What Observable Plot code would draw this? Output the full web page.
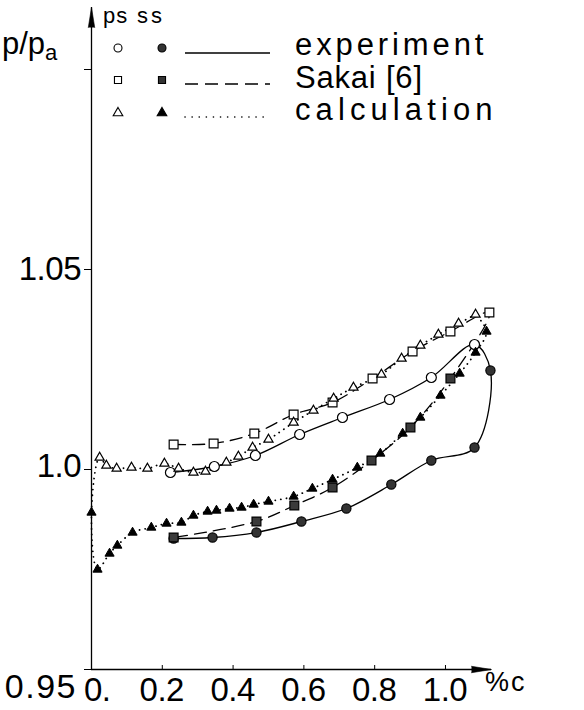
<!DOCTYPE html>
<html><head><meta charset="utf-8">
<script src="https://cdn.jsdelivr.net/npm/d3@7"></script>
<script src="https://cdn.jsdelivr.net/npm/@observablehq/plot@0.6"></script>
<style>
body{margin:0;background:#fff;}
#chart{position:relative;width:584px;height:710px;}
svg text{font-family:"Liberation Sans",Arial,sans-serif;}
</style>
</head><body><div id="chart"></div>
<script>
// ---- data (x in the figure's axis units, pressure ratio p/pa) ----
// experiment: pressure side (open circles) / suction side (filled circles)
const psExpX = [0.223, 0.347, 0.463, 0.588, 0.709, 0.842, 0.960, 1.082];
const psExpY = [0.99925, 1.00075, 1.0035, 1.00875, 1.013, 1.0175, 1.023, 1.03125];
const ssExpX = [0.232, 0.342, 0.466, 0.593, 0.720, 0.847, 0.960, 1.082, 1.127];
const ssExpY = [0.98275, 0.983, 0.98425, 0.987, 0.99025, 0.99625, 1.00225, 1.0055, 1.02475];
// Sakai [6]
const psSakX = [0.232, 0.345, 0.460, 0.571, 0.681, 0.794, 0.907, 1.014, 1.124];
const psSakY = [1.00625, 1.0065, 1.009, 1.01375, 1.01675, 1.02275, 1.0295, 1.0345, 1.03925];
const ssSakX = [0.232, 0.466, 0.573, 0.681, 0.791, 0.901, 1.014];
const ssSakY = [0.983, 0.987, 0.991, 0.9955, 1.00225, 1.0105, 1.02275];
// calculation
const psCalX = [0.023, 0.042, 0.071, 0.113, 0.158, 0.206, 0.246, 0.288, 0.322, 0.381, 0.415, 0.455, 0.500, 0.571, 0.627, 0.684, 0.740, 0.819, 0.876, 0.929, 0.980, 1.037, 1.085];
const psCalY = [1.003, 1.001, 1.00025, 1.0005, 1.00025, 1.0015, 1.00025, 0.99925, 0.9995, 1.00175, 1.00325, 1.0055, 1.0075, 1.01175, 1.01475, 1.01775, 1.0205, 1.02375, 1.02775, 1.031, 1.03375, 1.0365, 1.03875];
const ssCalX = [0, 0.017, 0.051, 0.073, 0.116, 0.169, 0.212, 0.254, 0.288, 0.328, 0.353, 0.390, 0.424, 0.458, 0.500, 0.571, 0.624, 0.681, 0.751, 0.816, 0.879, 0.929, 0.986, 1.040, 1.085, 1.116];
const ssCalY = [0.98925, 0.975, 0.979, 0.981, 0.98425, 0.9855, 0.9865, 0.98675, 0.9885, 0.9895, 0.98975, 0.99025, 0.9905, 0.99125, 0.992, 0.99325, 0.99525, 0.9975, 1.0005, 1.004, 1.009, 1.013, 1.0185, 1.024, 1.02925, 1.0345];

// axes
const xDomain = [0, 1.13];
const yDomain = [0.95, 1.1155];
const xTickVals = [0, 0.2, 0.4, 0.6, 0.8, 1.0];
const xTickLabels = ["0.", "0.2", "0.4", "0.6", "0.8", "1.0"];
const yTickVals = [0.95, 1.0, 1.05, 1.1];
const yTickLabels = ["0.95", "1.0", "1.05", ""];
const xAxisUnit = "%c";
const legendHead = ["ps", "ss"];
const legendNames = ["experiment", "Sakai [6]", "calculation"];

// ---- build tables ----
const pts = (xs, ys) => xs.map((x, i) => ({x, y: ys[i]}));
const psExp = pts(psExpX, psExpY), ssExp = pts(ssExpX, ssExpY);
const psSak = pts(psSakX, psSakY), ssSak = pts(ssSakX, ssSakY);
const psCal = pts(psCalX, psCalY), ssCal = pts(ssCalX, ssCalY);
const expLoop = [...psExp, ...ssExp.slice().reverse()];
const sakLoop = [...psSak, ...ssSak.slice().reverse()];
const calLoop = [...psCal.slice().reverse(), ...ssCal, psCal[psCal.length - 1]];

const open = {fill: "white", stroke: "black", strokeWidth: 1.2};
const plot = Plot.plot({
  width: 584, height: 710,
  marginLeft: 91, marginRight: 93, marginTop: 7, marginBottom: 41,
  style: {fontFamily: "Liberation Sans, Arial, sans-serif", background: "white", color: "black"},
  x: {domain: xDomain, axis: null},
  y: {domain: yDomain, axis: null},
  marks: [
    Plot.ruleX([0], {stroke: "black", strokeWidth: 1.3}),
    Plot.ruleY([yDomain[0]], {stroke: "black", strokeWidth: 1.3}),
    Plot.vector([0], {x: () => xDomain[0], y: () => yDomain[1], length: 20, r: 3.2, rotate: 0, shape: "spike", anchor: "end", fill: "black", fillOpacity: 1, stroke: "black", strokeWidth: 0.6}),
    Plot.vector([0], {x: () => xDomain[1], y: () => yDomain[0], length: 20, r: 3.2, rotate: 90, shape: "spike", anchor: "end", fill: "black", fillOpacity: 1, stroke: "black", strokeWidth: 0.6}),
    Plot.axisY(yTickVals, {tickSize: 7, tickFormat: () => "", label: null, stroke: "black"}),
    Plot.axisX(xTickVals, {tickSize: -4, tickFormat: () => "", label: null, stroke: "black"}),
    Plot.line(expLoop, {x: "x", y: "y", curve: "catmull-rom", stroke: "black", strokeWidth: 1.3}),
    Plot.line(sakLoop, {x: "x", y: "y", curve: "catmull-rom", stroke: "black", strokeWidth: 1.3, strokeDasharray: "12,7"}),
    Plot.line(calLoop, {x: "x", y: "y", curve: "catmull-rom", stroke: "black", strokeWidth: 1.8, strokeDasharray: "0.1,5.5", strokeLinecap: "round"}),
    Plot.dot(psExp, {x: "x", y: "y", r: 5, ...open}),
    Plot.dot(ssExp, {x: "x", y: "y", r: 4.6, fill: "#333", stroke: "black", strokeWidth: 1.2}),
    Plot.dot(psSak, {x: "x", y: "y", symbol: "square", r: 5, ...open}),
    Plot.dot(ssSak, {x: "x", y: "y", symbol: "square", r: 5, fill: "#3a3a3a", stroke: "black", strokeWidth: 1.2}),
    Plot.dot(psCal, {x: "x", y: "y", symbol: "triangle", r: 3.4, ...open}),
    Plot.dot(ssCal, {x: "x", y: "y", symbol: "triangle", r: 3.4, fill: "black", stroke: "black", strokeWidth: 1})
  ]
});
document.getElementById("chart").appendChild(plot);

// ---- texts placed through the plot's scales ----
const svg = d3.select(plot);
const X = v => plot.scale("x").apply(v), Y = v => plot.scale("y").apply(v);
const g = svg.append("g").attr("fill", "black");
xTickVals.forEach((v, i) => {
  const first = i === 0;
  g.append("text").attr("x", first ? X(v) - 7 : X(v)).attr("y", Y(yDomain[0]) + 32)
    .attr("text-anchor", first ? "start" : "middle").attr("font-size", 33).attr("letter-spacing", -0.5).text(xTickLabels[i]);
});
g.append("text").attr("x", X(xDomain[1]) - 6).attr("y", Y(yDomain[0]) + 22)
  .attr("text-anchor", "start").attr("font-size", 27).attr("letter-spacing", 2).text(xAxisUnit);
const yLabelDrop = [29, 8, 11, 0];
yTickVals.forEach((v, i) => {
  if (!yTickLabels[i]) return;
  const low = i === 0;
  g.append("text").attr("x", low ? X(0) - 14 : X(0) - 10).attr("y", Y(v) + yLabelDrop[i])
    .attr("text-anchor", "end").attr("font-size", low ? 34 : 33).attr("letter-spacing", low ? 1.5 : -0.5).text(yTickLabels[i]);
});
// p/pa ordinate label
const lab = g.append("text").attr("x", 2).attr("y", Y(yTickVals[3]) - 15)
  .attr("text-anchor", "start").attr("font-size", 31);
lab.append("tspan").text("p/p");
lab.append("tspan").attr("font-size", 22).attr("dy", 6).text("a");

// legend
const L = svg.append("g").attr("text-anchor", "start");
L.append("text").attr("x", 103).attr("y", 23).attr("font-size", 22).attr("letter-spacing", 1).text(legendHead[0]);
L.append("text").attr("x", 137).attr("y", 23).attr("font-size", 22).attr("letter-spacing", 3).text(legendHead[1]);
const rows = [
  {y: 48, sym: d3.symbolCircle, size: 50, dash: null, ly: 53, ty: 55, ls: 3.9},
  {y: 80, sym: d3.symbolSquare, size: 50, dash: "13,7", ly: 84, ty: 88, ls: 0.8},
  {y: 113, sym: d3.symbolTriangle, size: 40, dash: "0.1,7", ly: 117, ty: 120, ls: 5.1}
];
rows.forEach((r, i) => {
  L.append("path").attr("d", d3.symbol(r.sym, r.size)()).attr("transform", `translate(118,${r.y})`)
    .attr("fill", "white").attr("stroke", "black").attr("stroke-width", 1.1);
  L.append("path").attr("d", d3.symbol(r.sym, r.size)()).attr("transform", `translate(162,${r.y})`)
    .attr("fill", i === 2 ? "black" : "#333").attr("stroke", "black").attr("stroke-width", 1.1);
  L.append("line").attr("x1", 185).attr("x2", 270).attr("y1", r.ly).attr("y2", r.ly)
    .attr("stroke", "black").attr("stroke-width", i === 2 ? 1.6 : 1.3)
    .attr("stroke-dasharray", r.dash).attr("stroke-linecap", i === 2 ? "round" : "butt");
  L.append("text").attr("x", 295).attr("y", r.ty).attr("font-size", 31).attr("letter-spacing", r.ls).text(legendNames[i]);
});
</script>
</body></html>
